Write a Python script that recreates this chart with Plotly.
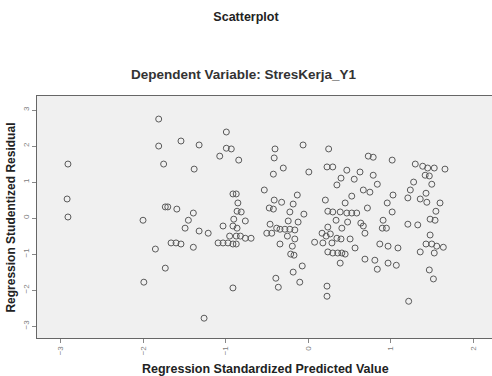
import plotly.graph_objects as go

# Regression standardized predicted value (x) and studentized residual (y)
pred = [-2.91, -2.92, -2.91, -1.81, -1.81, -1.75, -1.73, -1.70, -2.00, -1.85, -1.73, -1.99,
        -1.54, -1.32, -1.38, -1.59, -1.39, -1.45, -1.49, -1.32, -1.21, -1.66, -1.60, -1.54,
        -1.39, -1.26,
        -0.99, -0.99, -0.93, -1.07, -0.84, -0.91, -0.87, -0.85, -0.86, -0.81, -0.90, -0.76,
        -1.03, -0.91, -0.86, -0.95, -0.87, -0.82, -0.76, -0.69, -1.09, -1.03, -0.97, -0.91,
        -0.87, -0.91,
        -0.40, -0.41, -0.30, -0.42, -0.53, -0.41, -0.32, -0.47, -0.42, -0.46, -0.38, -0.50,
        -0.44, -0.34, -0.39, -0.36,
        -0.06, 0.25, 0.01, 0.23, 0.30, 0.47, 0.40, 0.56, 0.35, 0.53, -0.13, -0.18, 0.21, 0.45,
        -0.22, -0.05, 0.24, 0.30, 0.39, 0.47, 0.53, 0.59, -0.24, -0.12, 0.34, 0.48,
        -0.34, -0.28, -0.22, -0.16, 0.24, 0.41, -0.25, -0.16, 0.08, 0.17, 0.22, 0.27, 0.18,
        0.29, 0.35, 0.40, 0.51, 0.57, -0.19, -0.21, -0.17, 0.24, 0.30, 0.36, 0.41, 0.45,
        0.39, -0.07, -0.18, -0.10, 0.23, 0.23,
        0.73, 0.79, 1.02, 0.63, 0.79, 0.84, 0.67, 0.75, 1.03, 0.96, 0.72, 1.02, 0.91, 0.64,
        0.67, 0.69, 0.90, 0.95, 1.21, 1.33, 0.87, 0.97, 1.09, 0.69, 0.81, 0.84, 0.97, 1.07,
        1.36, 1.22,
        1.30, 1.39, 1.45, 1.53, 1.66, 1.42, 1.47, 1.28, 1.50, 1.24, 1.43, 1.21, 1.36, 1.44,
        1.60, 1.55, 1.48, 1.54, 1.48, 1.43, 1.50, 1.56, 1.64, 1.53, 1.47, 1.52]

resid = [1.50, 0.53, 0.03, 2.75, 2.00, 1.50, 0.31, 0.31, -0.06, -0.86, -1.39, -1.78,
         2.14, 2.03, 1.36, 0.25, 0.14, -0.06, -0.28, -0.36, -0.42, -0.69, -0.69, -0.72,
         -0.81, -2.78,
         2.39, 1.94, 1.92, 1.72, 1.61, 0.67, 0.67, 0.42, 0.19, 0.17, -0.03, -0.08,
         -0.22, -0.22, -0.28, -0.50, -0.50, -0.50, -0.56, -0.56, -0.69, -0.69, -0.69, -0.72,
         -0.72, -1.94,
         1.92, 1.67, 1.39, 1.22, 0.78, 0.50, 0.44, 0.28, 0.25, -0.17, -0.28, -0.42,
         -0.42, -0.72, -1.67, -1.92,
         2.03, 1.92, 1.28, 1.42, 1.42, 1.33, 1.11, 1.08, 0.92, 0.61, 0.64, 0.39, 0.50, 0.42,
         0.17, 0.11, 0.19, 0.17, 0.17, 0.14, 0.14, 0.14, -0.08, -0.11, -0.06, -0.11,
         -0.31, -0.31, -0.31, -0.33, -0.25, -0.28, -0.50, -0.58, -0.67, -0.42, -0.50, -0.44, -0.69,
         -0.69, -0.56, -0.58, -0.58, -0.83, -0.78, -1.00, -1.03, -0.94, -0.97, -0.97, -0.97, -1.00,
         -1.25, -1.33, -1.50, -1.78, -1.89, -2.17,
         1.72, 1.69, 1.61, 1.28, 1.19, 0.94, 0.78, 0.72, 0.64, 0.42, 0.28, 0.17, -0.06, -0.14,
         -0.22, -0.42, -0.28, -0.28, -0.17, -0.19, -0.72, -0.78, -0.83, -1.14, -1.17, -1.42, -1.25, -1.31,
         -0.94, -2.31,
         1.50, 1.44, 1.39, 1.39, 1.36, 1.19, 1.17, 1.00, 0.94, 0.78, 0.69, 0.56, 0.53, 0.44,
         0.42, 0.19, -0.03, -0.06, -0.47, -0.72, -0.72, -0.78, -0.81, -0.97, -1.44, -1.69]

x_ticks = [-3, -2, -1, 0, 1, 2]
y_ticks = [-3, -2, -1, 0, 1, 2, 3]

fig = go.Figure()
fig.add_trace(go.Scatter(
    x=pred, y=resid, mode="markers",
    marker=dict(symbol="circle-open", size=6, color="#5a5a5a", line=dict(width=1, color="#5a5a5a")),
    showlegend=False,
))

axis_common = dict(
    showgrid=False, zeroline=False, ticks="outside", ticklen=4, tickcolor="#888888",
    tickfont=dict(family="Liberation Sans, Arial", size=8, color="#808080"),
    showline=True, linecolor="#666666", linewidth=1, mirror=True,
)

fig.update_layout(
    width=492, height=376,
    margin=dict(l=37, r=0, t=96, b=38),
    paper_bgcolor="white", plot_bgcolor="#f0f0f0",
    title=dict(text="<b>Scatterplot</b>", x=0.5, xanchor="center", y=1 - 17 / 376,
               yref="container", yanchor="middle",
               font=dict(family="Liberation Sans, Arial", size=12.5, color="#222222")),
    xaxis=dict(range=[-3.285, 2.23], tickvals=x_ticks, tickangle=-90, **axis_common),
    yaxis=dict(range=[-3.33, 3.39], tickvals=y_ticks, tickangle=-90, **axis_common),
    annotations=[
        dict(text="<b>Dependent Variable: StresKerja_Y1</b>", xref="paper", yref="paper",
             x=0.456, y=1.087, xanchor="center", yanchor="middle", showarrow=False,
             font=dict(family="Liberation Sans, Arial", size=13.5, color="#333333")),
        dict(text="<b>Regression Standardized Predicted Value</b>", xref="paper", yref="paper",
             x=0.503, y=-0.128, xanchor="center", yanchor="middle", showarrow=False,
             font=dict(family="Liberation Sans, Arial", size=12.5, color="#222222")),
        dict(text="<b>Regression Studentized Residual</b>", xref="paper", yref="paper",
             x=-0.058, y=0.496, xanchor="center", yanchor="middle", showarrow=False,
             textangle=-90,
             font=dict(family="Liberation Sans, Arial", size=12, color="#222222")),
    ],
)

fig.write_html("out.html", config={"displayModeBar": False},
               post_script="document.body.style.margin='0px';document.body.style.overflow='hidden';")
